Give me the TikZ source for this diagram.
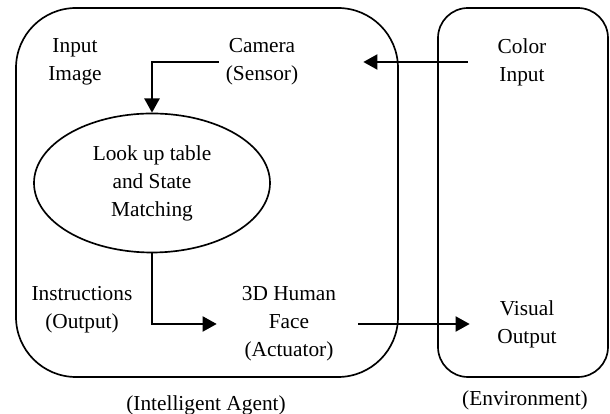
\documentclass[tikz,border=0pt]{standalone}
\usepackage{fontspec}
\setmainfont{Liberation Serif}
\usetikzlibrary{shapes.geometric,arrows.meta,positioning,calc}

\begin{document}
\begin{tikzpicture}[
    x=0.6pt,y=-0.6pt,
    lbl/.style={align=center,font=\fontsize{12.8}{16.8}\selectfont,inner sep=2pt},
    frm/.style={draw,line width=1pt,rounded corners=#1},
    ar/.style={-{Triangle[length=8.5pt,width=9pt]},line width=1.4pt}]
\useasboundingbox (0,0) rectangle (610,414);
% agent and environment frames
\draw[frm=36pt] (16,8) rectangle (398,377);
\draw[frm=18pt] (438,8) rectangle (608,377);
\node[lbl] (img)  at (75,62)   {Input\\Image};
\node[lbl] (cam)  at (262,62)  {Camera\\(Sensor)};
\node[lbl] (col)  at (522,62)  {Color\\Input};
\node[lbl,ellipse,draw,line width=1pt,minimum width=141.6pt,
      minimum height=83.4pt,inner sep=0pt] (lut) at (152,183)
      {Look up table\\and State\\Matching};
\node[lbl] (ins)  at (82,310)  {Instructions\\(Output)};
\node[lbl] (face) at (289,324) {3D Human\\Face\\(Actuator)};
\node[lbl] (vis)  at (527,324) {Visual\\Output};
\node[lbl] (agt)  at (206,405) {(Intelligent Agent)};
\node[lbl] (env)  at (525,400) {(Environment)};
\draw[ar,shorten <=15.8pt,shorten >=36.9pt] (col.west) -- (cam.east);
\draw[ar,shorten <=2pt] (cam.west) -| (lut.north);
\draw[ar,shorten >=12.9pt] (lut.south) |- (face.west);
\draw[ar,shorten <=11.1pt,shorten >=14.4pt] (face.east) -- (vis.west);
\end{tikzpicture}
\end{document}
